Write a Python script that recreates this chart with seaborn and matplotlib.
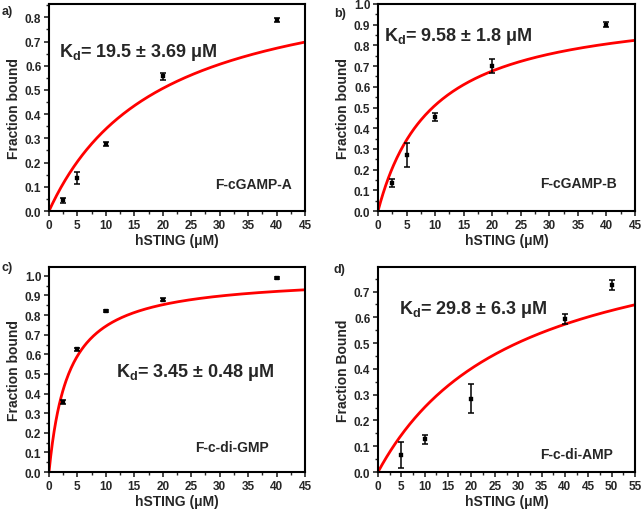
import numpy as np
import pandas as pd
import seaborn as sns
import matplotlib.pyplot as plt
from matplotlib.ticker import MultipleLocator, AutoMinorLocator

sns.set_theme(style="ticks")
plt.rcParams['font.family'] = ['Liberation Sans', 'DejaVu Sans']
plt.rcParams['font.weight'] = 'bold'
plt.rcParams['mathtext.fontset'] = 'custom'
plt.rcParams['mathtext.bf'] = 'Liberation Sans:bold'
plt.rcParams['mathtext.rm'] = 'Liberation Sans:bold'
plt.rcParams['mathtext.default'] = 'bf'

# data
conc_a = [2.5, 5, 10, 20, 40]
frac_a = [0.045, 0.136, 0.275, 0.556, 0.789]
err_a = [0.010, 0.025, 0.008, 0.013, 0.008]
kd_a = 19.5

conc_b = [2.5, 5, 10, 20, 40]
frac_b = [0.136, 0.272, 0.455, 0.700, 0.900]
err_b = [0.020, 0.057, 0.020, 0.035, 0.013]
kd_b = 9.58

conc_c = [2.5, 5, 10, 20, 40]
frac_c = [0.357, 0.625, 0.820, 0.879, 0.988]
err_c = [0.012, 0.006, 0.005, 0.006, 0.005]
kd_c = 3.45

conc_d = [5, 10, 20, 40, 50]
frac_d = [0.065, 0.127, 0.284, 0.593, 0.724]
err_d = [0.050, 0.018, 0.056, 0.018, 0.020]
kd_d = 29.8

panels = [
    dict(tag="a)", x=conc_a, y=frac_a, e=err_a, kd=kd_a, kdtxt="19.5 ± 3.69 μM",
         name="F-cGAMP-A", ylab="Fraction bound", xmax=45, xstep=5, ymax=0.855,
         pos=[0.0763, 0.5843, 0.3988, 0.4059], kdxy=(0.04, 0.77), namexy=(0.95, 0.13),
         tagxy=(0.003, 0.977)),
    dict(tag="b)", x=conc_b, y=frac_b, e=err_b, kd=kd_b, kdtxt="9.58 ± 1.8 μM",
         name="F-cGAMP-B", ylab="Fraction bound", xmax=45, xstep=5, ymax=1.0,
         pos=[0.5888, 0.5843, 0.4003, 0.4059], kdxy=(0.025, 0.85), namexy=(0.93, 0.135),
         tagxy=(0.52, 0.972)),
    dict(tag="c)", x=conc_c, y=frac_c, e=err_c, kd=kd_c, kdtxt="3.45 ± 0.48 μM",
         name="F-c-di-GMP", ylab="Fraction bound", xmax=45, xstep=5, ymax=1.045,
         pos=[0.0763, 0.0725, 0.3988, 0.402], kdxy=(0.26, 0.49), namexy=(0.86, 0.12),
         tagxy=(0.003, 0.475)),
    dict(tag="d)", x=conc_d, y=frac_d, e=err_d, kd=kd_d, kdtxt="29.8 ± 6.3 μM",
         name="F-c-di-AMP", ylab="Fraction Bound", xmax=55, xstep=5, ymax=0.795,
         pos=[0.5888, 0.0725, 0.4003, 0.402], kdxy=(0.08, 0.80), namexy=(0.915, 0.088),
         tagxy=(0.52, 0.47)),
]

fig = plt.figure(figsize=(6.42, 5.10), dpi=100)

for p in panels:
    ax = fig.add_axes(p["pos"])
    # one-site binding fit curve
    xf = np.linspace(0, p["xmax"], 300)
    fit = pd.DataFrame({"x": xf, "y": xf / (p["kd"] + xf)})
    sns.lineplot(data=fit, x="x", y="y", color="#ff0000", lw=2.0, ax=ax, zorder=2)
    pts = pd.DataFrame({"x": p["x"], "y": p["y"]})
    ax.errorbar(p["x"], p["y"], yerr=p["e"], fmt="none", ecolor="black",
                elinewidth=1.1, capsize=2.5, capthick=1.1, zorder=3)
    sns.scatterplot(data=pts, x="x", y="y", marker="s", s=10, color="black",
                    edgecolor="black", ax=ax, zorder=4)

    ax.set_xlim(0, p["xmax"])
    ax.set_ylim(0, p["ymax"])
    ax.xaxis.set_major_locator(MultipleLocator(p["xstep"]))
    ax.yaxis.set_major_locator(MultipleLocator(0.1))
    ax.xaxis.set_minor_locator(AutoMinorLocator(2))
    ax.yaxis.set_minor_locator(AutoMinorLocator(2))
    ax.yaxis.set_major_formatter(plt.FormatStrFormatter("%.1f"))
    ax.tick_params(which="major", direction="out", length=3.5, width=1.2,
                   labelsize=8.5, pad=2, top=False, right=False)
    ax.tick_params(which="minor", direction="out", length=2, width=1.0,
                   top=False, right=False)
    for lab in ax.get_xticklabels() + ax.get_yticklabels():
        lab.set_fontweight("bold")
    for sp in ax.spines.values():
        sp.set_visible(True)
        sp.set_linewidth(1.5)
        sp.set_color("black")

    ax.set_xlabel("hSTING (μM)", fontsize=10, fontweight="bold", labelpad=2)
    ax.set_ylabel(p["ylab"], fontsize=10, fontweight="bold", labelpad=3)

    ax.text(p["kdxy"][0], p["kdxy"][1], r"K$_\mathbf{d}$= " + p["kdtxt"],
            transform=ax.transAxes, fontsize=13, fontweight="bold",
            ha="left", va="center")
    ax.text(p["namexy"][0], p["namexy"][1], p["name"], transform=ax.transAxes,
            fontsize=10, fontweight="bold", ha="right", va="center")
    fig.text(p["tagxy"][0], p["tagxy"][1], p["tag"], fontsize=9,
             fontweight="bold", ha="left", va="center")

fig.savefig("out.png", dpi=100)
